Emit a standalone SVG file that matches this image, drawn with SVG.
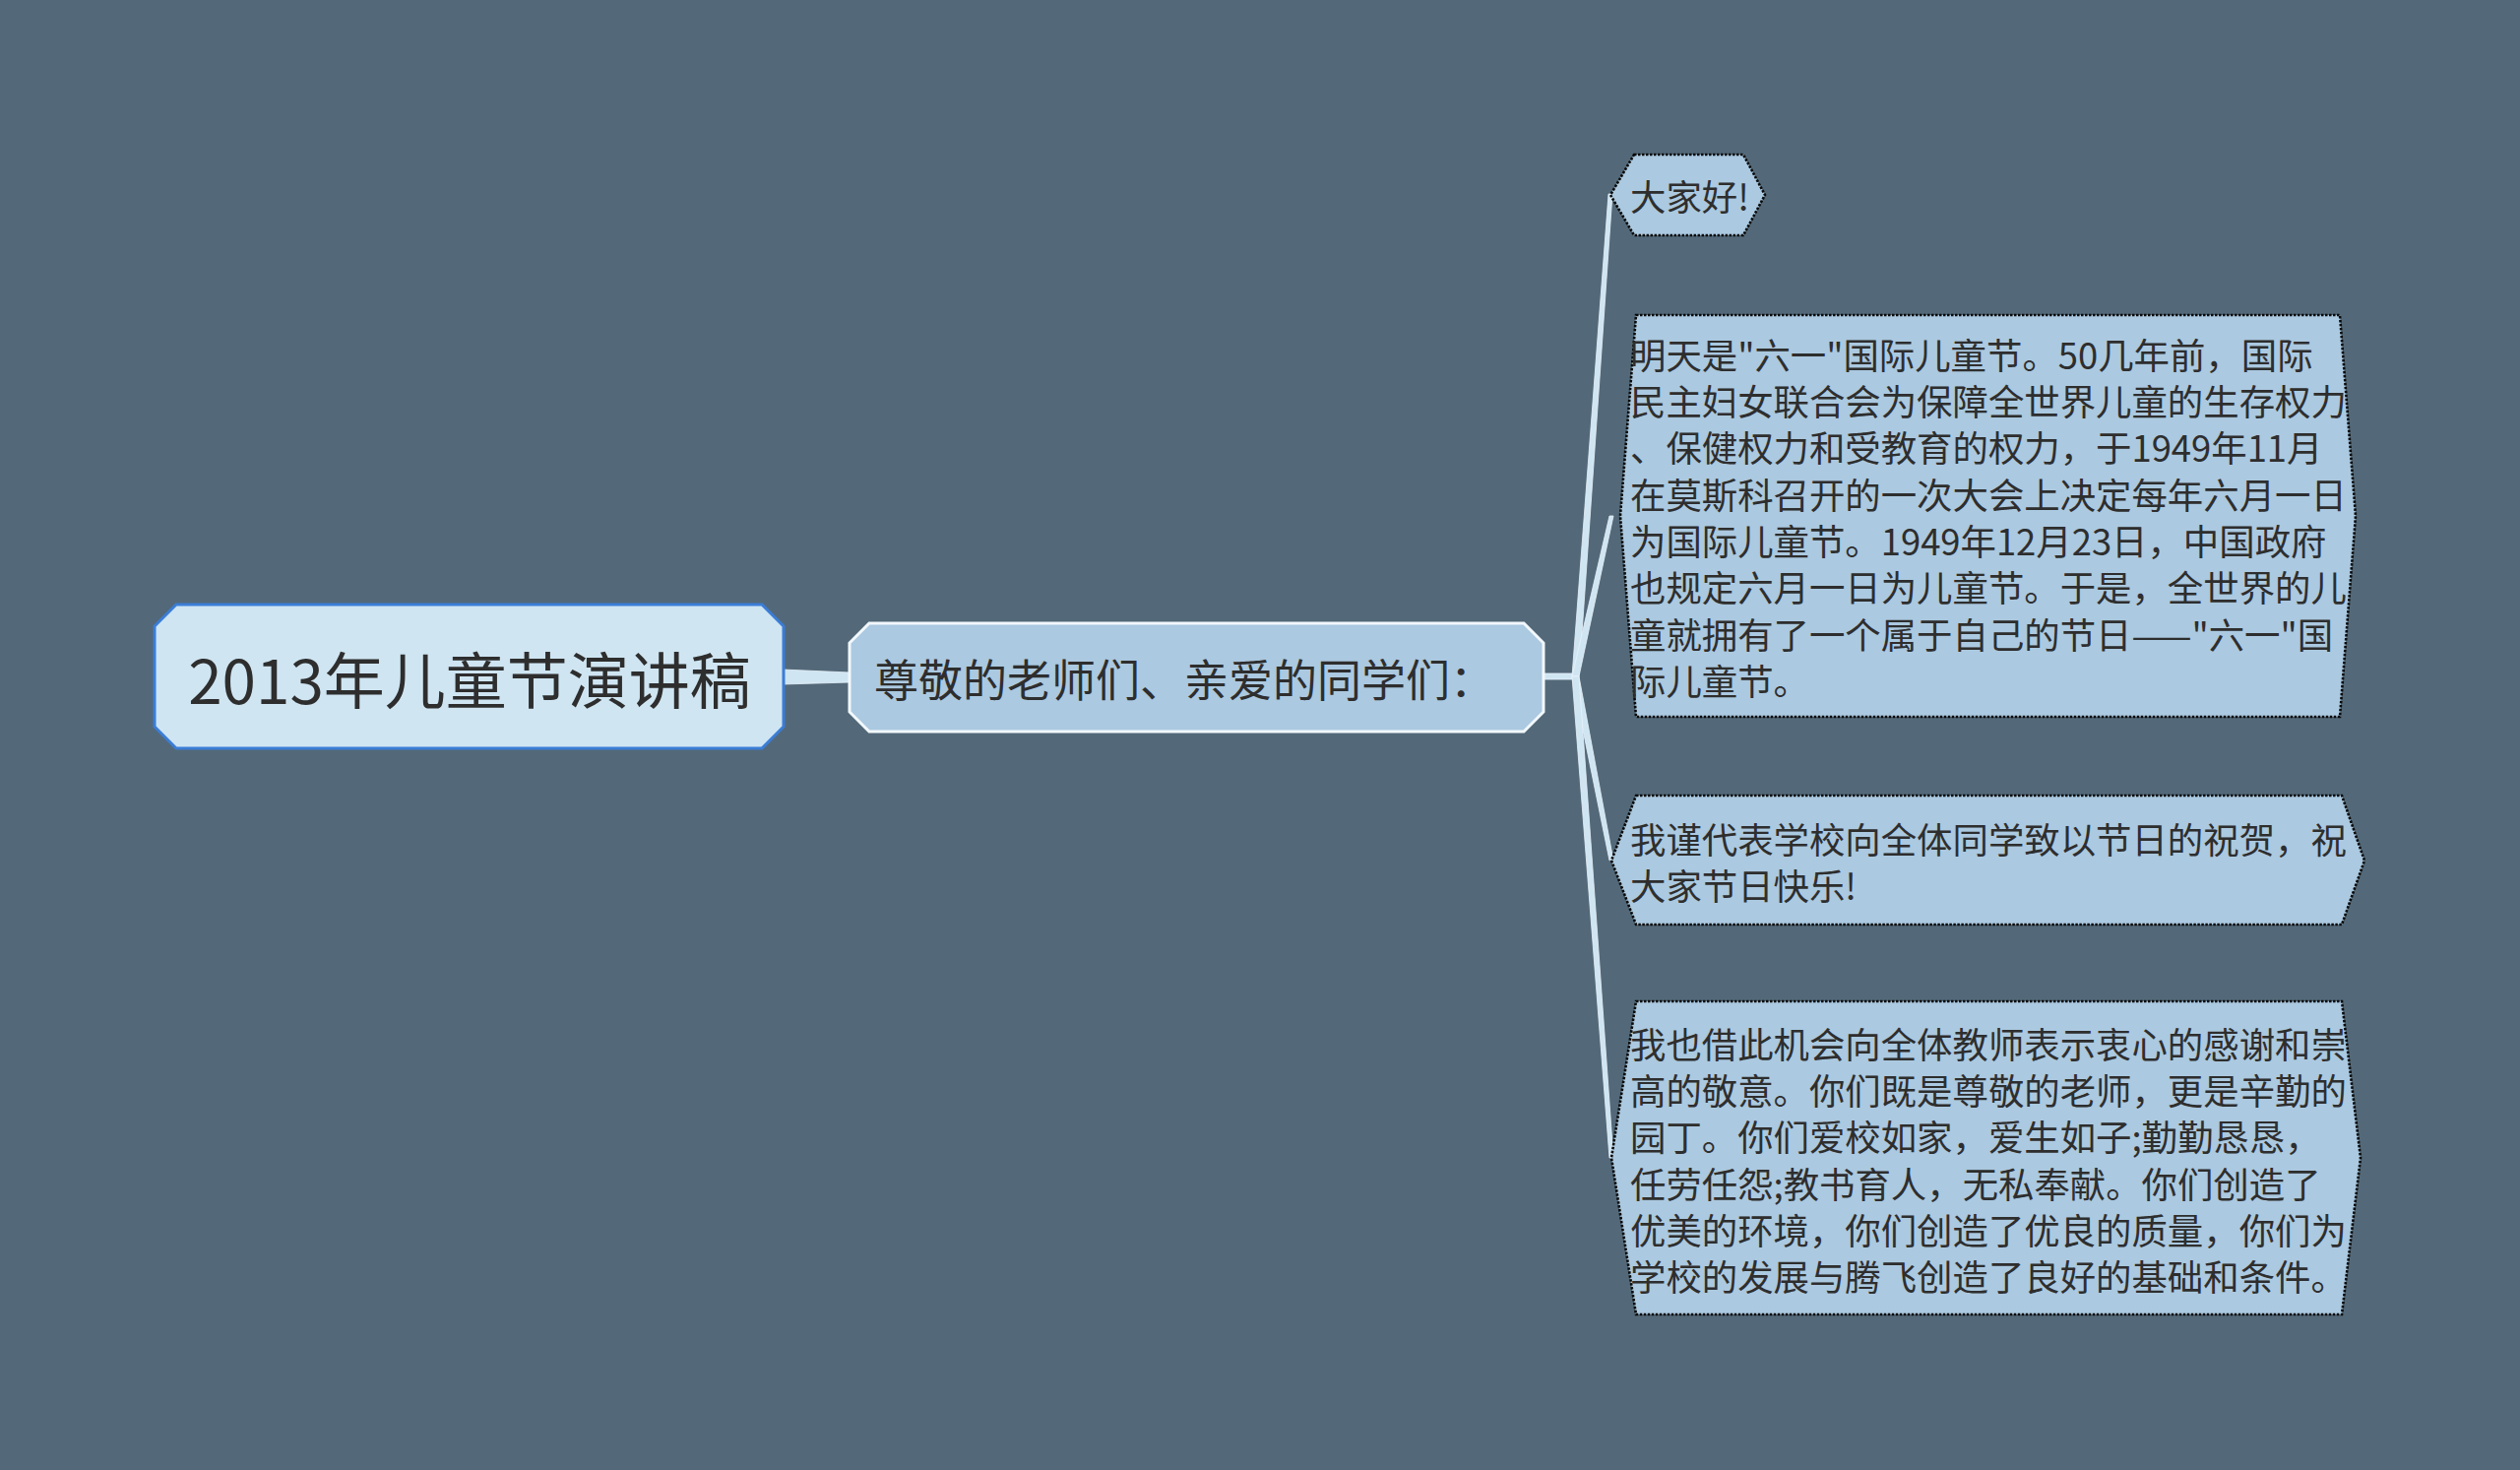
<svg xmlns="http://www.w3.org/2000/svg" width="2560" height="1493" viewBox="0 0 2560 1493">
<style>
.txt{font-family:"Noto Sans CJK SC","Noto Sans",sans-serif;fill:#2e2e2e;dominant-baseline:central}
.leaf{fill:#abc9e0;stroke:#0a0a0a;stroke-width:2.6;stroke-dasharray:2.5 1.5}
.conn{fill:#cfe5f2;stroke:#e8f3fa;stroke-width:0.8}
.lt{font-size:36.4px}
</style>
<rect width="2560" height="1493" fill="#536979"/>
<g id="connectors">
<path class="conn" d="M795,680 L863,683 L863,693 L795,695 Z"/>
<rect class="conn" x="1567" y="684" width="34" height="6"/>
<path class="conn" d="M1597,687 L1634,197 L1638,197 L1604,687 Z"/>
<path class="conn" d="M1597,687 L1635,524 L1639,524 L1604,687 Z"/>
<path class="conn" d="M1597,687 L1635,874 L1639,874 L1604,687 Z"/>
<path class="conn" d="M1597,687 L1635,1176 L1639,1176 L1604,687 Z"/>
</g>
<g id="root">
<polygon points="179,614 774,614 796,636 796,738 774,760 179,760 157,738 157,636" fill="#cfe5f2" stroke="#3b7dd6" stroke-width="3"/>
<text class="txt" x="477" y="688" font-size="62" text-anchor="middle">2013年儿童节演讲稿</text>
</g>
<g id="branch">
<polygon points="883,633 1548,633 1568,653 1568,723 1548,743 883,743 863,723 863,653" fill="#abc9e0" stroke="#f2f8fc" stroke-width="3"/>
<text class="txt" x="888" y="688" font-size="45">尊敬的老师们、亲爱的同学们：</text>
</g>
<g id="leaf1">
<polygon class="leaf" points="1660,157 1771,157 1793,198 1771,239 1660,239 1636,198"/>
<text class="txt lt" x="1656" y="198">大家好!</text>
</g>
<g id="leaf2">
<polygon class="leaf" points="1662,320 2377,320 2393,524 2377,728 1662,728 1646,524"/>
<text class="txt lt" x="1656" y="359">明天是"六一"国际儿童节。50几年前，国际</text>
<text class="txt lt" x="1656" y="406">民主妇女联合会为保障全世界儿童的生存权力</text>
<text class="txt lt" x="1656" y="453">、保健权力和受教育的权力，于1949年11月</text>
<text class="txt lt" x="1656" y="501">在莫斯科召开的一次大会上决定每年六月一日</text>
<text class="txt lt" x="1656" y="548">为国际儿童节。1949年12月23日，中国政府</text>
<text class="txt lt" x="1656" y="595">也规定六月一日为儿童节。于是，全世界的儿</text>
<text class="txt lt" x="1656" y="643">童就拥有了一个属于自己的节日——"六一"国</text>
<text class="txt lt" x="1656" y="690">际儿童节。</text>
</g>
<g id="leaf3">
<polygon class="leaf" points="1662,808 2379,808 2402,874 2379,939 1662,939 1637,874"/>
<text class="txt lt" x="1656" y="851">我谨代表学校向全体同学致以节日的祝贺，祝</text>
<text class="txt lt" x="1656" y="898">大家节日快乐!</text>
</g>
<g id="leaf4">
<polygon class="leaf" points="1662,1017 2379,1017 2398,1176 2379,1335 1662,1335 1637,1176"/>
<text class="txt lt" x="1656" y="1059">我也借此机会向全体教师表示衷心的感谢和崇</text>
<text class="txt lt" x="1656" y="1106">高的敬意。你们既是尊敬的老师，更是辛勤的</text>
<text class="txt lt" x="1656" y="1153">园丁。你们爱校如家，爱生如子;勤勤恳恳，</text>
<text class="txt lt" x="1656" y="1201">任劳任怨;教书育人，无私奉献。你们创造了</text>
<text class="txt lt" x="1656" y="1248">优美的环境，你们创造了优良的质量，你们为</text>
<text class="txt lt" x="1656" y="1295">学校的发展与腾飞创造了良好的基础和条件。</text>
</g>
</svg>
